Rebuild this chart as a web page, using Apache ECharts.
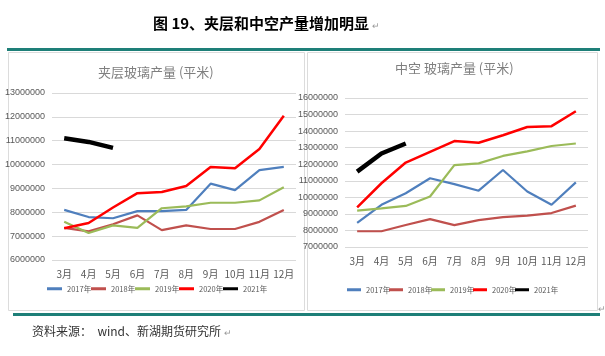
<!DOCTYPE html>
<html><head><meta charset="utf-8">
<script src="https://cdn.jsdelivr.net/npm/echarts@6/dist/echarts.min.js"></script>
<style>html,body{margin:0;padding:0;background:#fff}#c{width:605px;height:356px}</style>
</head><body><div id="c"></div>
<script>
var months = ['3月','4月','5月','6月','7月','8月','9月','10月','11月','12月'];
var seriesNames = ['2017年','2018年','2019年','2020年','2021年'];
var colors = ['#4F7FBD','#C0504D','#9BBB59','#FF0000','#000000'];
// 夹层玻璃产量 (平米)
var lam2017 = [8100000,7800000,7750000,8050000,8050000,8100000,9200000,8930000,9770000,9900000];
var lam2018 = [7350000,7200000,7500000,7870000,7250000,7450000,7300000,7300000,7600000,8100000];
var lam2019 = [7600000,7130000,7450000,7350000,8170000,8250000,8400000,8400000,8500000,9050000];
var lam2020 = [7330000,7550000,8200000,8800000,8850000,9100000,9900000,9850000,10650000,12050000];
var lam2021 = [11100000,10950000,10700000];
// 中空玻璃产量 (平米)
var hol2017 = [8450000,9550000,10250000,11150000,10800000,10400000,11650000,10350000,9550000,10900000];
var hol2018 = [7950000,7950000,8330000,8680000,8320000,8620000,8800000,8900000,9050000,9500000];
var hol2019 = [9200000,9330000,9480000,10050000,11950000,12050000,12500000,12780000,13100000,13250000];
var hol2020 = [9400000,10850000,12100000,12750000,13400000,13300000,13750000,14250000,14300000,15200000];
var hol2021 = [11550000,12650000,13250000];
var leftTicks = {min:6000000, max:13000000, interval:1000000};
var rightTicks = {min:7000000, max:16000000, interval:1000000};

var chart = echarts.init(document.getElementById('c'));
var lamData = [lam2017,lam2018,lam2019,lam2020,lam2021];
var holData = [hol2017,hol2018,hol2019,hol2020,hol2021];
var axisFont = {fontFamily:'"Liberation Sans Narrow","Liberation Sans",Arial,sans-serif', fontSize:9, color:'#595959'};
function mkX(gi){return {type:'category', gridIndex:gi, data:months, boundaryGap:true,
  axisLine:{show:false}, axisTick:{show:false},
  axisLabel:{fontFamily:'"Noto Sans CJK SC",sans-serif', fontSize:10, color:'#595959', margin:9, interval:0}};}
function mkY(gi,t){return {type:'value', gridIndex:gi, min:t.min, max:t.max, interval:t.interval,
  axisLine:{show:false}, axisTick:{show:false},
  splitLine:{lineStyle:{color:'#D9D9D9', width:1}},
  axisLabel:Object.assign({margin:7, formatter:function(v){return String(v);}}, axisFont)};}
var series = [];
[lamData, holData].forEach(function(set, gi){
  set.forEach(function(d, i){
    series.push({name:seriesNames[i], type:'line', xAxisIndex:gi, yAxisIndex:gi, data:d,
      symbol:'none', smooth:false, color:colors[i],
      lineStyle:{width: i===4 ? 4.5 : (i===3 ? 2.5 : 2.2), color:colors[i]}});
  });
});
var legendText = {fontFamily:'"Liberation Sans Narrow","Noto Sans CJK SC",sans-serif', fontSize:7.5, color:'#595959'};
var legends = [];
seriesNames.forEach(function(n, i){
  legends.push({data:[n], left:47 + i*44, top:285, itemWidth:15, itemHeight:3, icon:'rect', itemGap:0, textStyle:legendText, padding:0});
  legends.push({data:[n], left:347 + i*42, top:286, itemWidth:14, itemHeight:3, icon:'rect', itemGap:0, textStyle:legendText, padding:0});
});
chart.setOption({
  animation:false,
  backgroundColor:'#fff',
  grid:[{left:52, top:93, width:244, height:167},
        {left:345, top:98, width:243, height:149}],
  xAxis:[mkX(0), mkX(1)],
  yAxis:[mkY(0,leftTicks), mkY(1,rightTicks)],
  legend:legends,
  series:series,
  graphic:[
    {type:'text', left:153, top:16, style:{text:'图 19、夹层和中空产量增加明显', font:'bold 15px "Noto Sans CJK SC",sans-serif', fill:'#000'}},
    {type:'text', left:372, top:22, style:{text:'↵', font:'9px sans-serif', fill:'#999'}},
    {type:'rect', shape:{x:8.5, y:52.5, width:296, height:258}, style:{fill:'none', stroke:'#DCDCDC', lineWidth:1}},
    {type:'rect', shape:{x:307.5, y:52.5, width:290, height:258}, style:{fill:'none', stroke:'#DCDCDC', lineWidth:1}},
    {type:'rect', shape:{x:7, y:48, width:593, height:3}, style:{fill:'#1E7F78'}},
    {type:'rect', shape:{x:13, y:313, width:587, height:3}, style:{fill:'#1E7F78'}},
    {type:'text', left:98, top:66, style:{text:'夹层玻璃产量 (平米)', font:'13px "Noto Sans CJK SC",sans-serif', fill:'#7F7F7F'}},
    {type:'text', left:395, top:62, style:{text:'中空 玻璃产量 (平米)', font:'13px "Noto Sans CJK SC",sans-serif', fill:'#7F7F7F'}},
    {type:'text', left:32, top:325, style:{text:'资料来源：  wind、新湖期货研究所', font:'12px "Noto Sans CJK SC",sans-serif', fill:'#333'}},
    {type:'text', left:224, top:329, style:{text:'↵', font:'9px sans-serif', fill:'#999'}},
    {type:'text', left:598, top:305, style:{text:'↵', font:'9px sans-serif', fill:'#999'}}
  ]
});
</script></body></html>
